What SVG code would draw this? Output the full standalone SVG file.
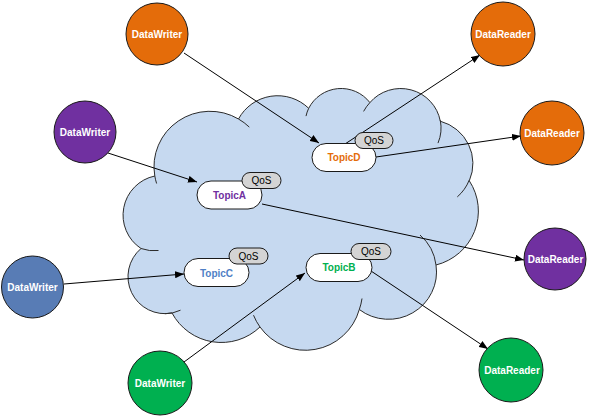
<svg xmlns="http://www.w3.org/2000/svg" width="594" height="419" viewBox="0 0 594 419">
<defs>
<style>
.cloud{fill:#C6D9F0;stroke:#2b2b2b;stroke-width:1}
.stub{fill:none;stroke:#2b2b2b;stroke-width:1}
.node{stroke:#1a1a1a;stroke-width:1}
.lbl{font-family:"Liberation Sans",Arial,sans-serif;font-size:10px;font-weight:bold;fill:#fff;text-anchor:middle}
.topic{fill:#fff;stroke:#1a1a1a;stroke-width:1}
.qos{fill:#D4D4D4;stroke:#1a1a1a;stroke-width:1}
.tt{font-family:"Liberation Sans",Arial,sans-serif;font-size:10px;font-weight:bold;text-anchor:middle}
.qt{font-family:"Liberation Sans",Arial,sans-serif;font-size:10px;fill:#000;text-anchor:middle}
.conn line{stroke:#000;stroke-width:1;marker-end:url(#arr)}
</style>
<marker id="arr" viewBox="0 0 10 10" refX="10" refY="5" markerWidth="9" markerHeight="7" markerUnits="userSpaceOnUse" orient="auto" preserveAspectRatio="none"><path d="M0,0 L10,5 L0,10 z" fill="#000"/></marker>
</defs>
<rect width="594" height="419" fill="#fff"/>
<g id="cloud">
<path class="cloud" d="M 154.8 176 A 56 55.4 0 0 1 238.5 119 A 44.3 43.8 0 0 1 308.7 108.3 A 36.2 35.8 0 0 1 369.9 102.6 A 40.3 39.8 0 0 1 440.3 121.2 A 44.3 43.8 0 0 1 469.3 180.8 A 56.2 55.6 0 0 1 436 265 A 48 47.4 0 0 1 359.3 309.5 A 56 56 0 0 1 260 327 A 56 56 0 0 1 172 313 A 37 37 0 0 1 141 248.5 A 40 40 0 0 1 154.8 176 Z"/>
<path class="stub" d="M 158.5 250.5 A 38 38 0 0 1 141 248.5 M 180.5 310.2 A 37 37 0 0 1 164.9 313.7 M 260 327 A 56 56 0 0 1 253.5 315.2 M 362 298.5 A 56 56 0 0 1 359.3 309.5 M 420 235 A 48 47.4 0 0 1 436 265 M 469.2 180.2 A 44.3 43.8 0 0 1 457.3 196.9 M 440.3 120.3 A 40.3 39.8 0 0 1 438 143.1 M 363.6 111.4 A 40.3 39.8 0 0 1 369.9 102.6 M 306 116.1 A 36.2 35.8 0 0 1 308.7 108.3 M 238.5 119 A 56 55.4 0 0 1 249.3 127.1 M 156.6 183.5 A 56 55.4 0 0 1 154.8 176"/>
</g>
<g id="connectors" class="conn">
<line x1="184" y1="53" x2="319" y2="143"/>
<line x1="345" y1="144" x2="480" y2="55"/>
<line x1="376" y1="157" x2="521" y2="136"/>
<line x1="108" y1="153" x2="197" y2="182"/>
<line x1="262" y1="204" x2="524" y2="260"/>
<line x1="64" y1="284" x2="184" y2="274"/>
<line x1="184" y1="362" x2="305" y2="273"/>
<line x1="371" y1="271" x2="488" y2="349"/>
</g>
<g id="topicD">
<rect class="topic" x="312" y="143.5" width="64" height="28" rx="14"/>
<text class="tt" x="344" y="161" fill="#E46C0A">TopicD</text>
<rect class="qos" x="355" y="132.5" width="38" height="16" rx="8"/>
<text class="qt" x="374" y="144">QoS</text>
</g>
<g id="topicA">
<rect class="topic" x="197" y="181" width="65" height="28" rx="14"/>
<text class="tt" x="229.5" y="198.5" fill="#7030A0">TopicA</text>
<rect class="qos" x="242" y="172.5" width="39" height="16" rx="8"/>
<text class="qt" x="261.5" y="184">QoS</text>
</g>
<g id="topicC">
<rect class="topic" x="184" y="258.5" width="65" height="28" rx="14"/>
<text class="tt" x="216.5" y="276.5" fill="#4F7FC6">TopicC</text>
<rect class="qos" x="229" y="248" width="39" height="16" rx="8"/>
<text class="qt" x="248.5" y="259.5">QoS</text>
</g>
<g id="topicB">
<rect class="topic" x="306" y="253.5" width="66" height="28" rx="14"/>
<text class="tt" x="339" y="271" fill="#00B050">TopicB</text>
<rect class="qos" x="351" y="243.5" width="40" height="16" rx="8"/>
<text class="qt" x="371" y="255">QoS</text>
</g>
<g id="writer1">
<circle class="node" cx="157" cy="34" r="31" fill="#E46C0A"/>
<text class="lbl" x="157" y="38">DataWriter</text>
</g>
<g id="writer2">
<circle class="node" cx="85" cy="132" r="31" fill="#7030A0"/>
<text class="lbl" x="85" y="136">DataWriter</text>
</g>
<g id="writer3">
<circle class="node" cx="32.5" cy="287" r="31" fill="#587CB5"/>
<text class="lbl" x="32.5" y="291">DataWriter</text>
</g>
<g id="writer4">
<circle class="node" cx="160" cy="383" r="32" fill="#00B050"/>
<text class="lbl" x="160" y="387">DataWriter</text>
</g>
<g id="reader1">
<circle class="node" cx="503" cy="34" r="32" fill="#E46C0A"/>
<text class="lbl" x="503" y="38">DataReader</text>
</g>
<g id="reader2">
<circle class="node" cx="552" cy="133" r="32" fill="#E46C0A"/>
<text class="lbl" x="552" y="137">DataReader</text>
</g>
<g id="reader3">
<circle class="node" cx="555" cy="259" r="31" fill="#7030A0"/>
<text class="lbl" x="555.5" y="263">DataReader</text>
</g>
<g id="reader4">
<circle class="node" cx="511" cy="370" r="32" fill="#00B050"/>
<text class="lbl" x="512" y="374">DataReader</text>
</g>
</svg>
